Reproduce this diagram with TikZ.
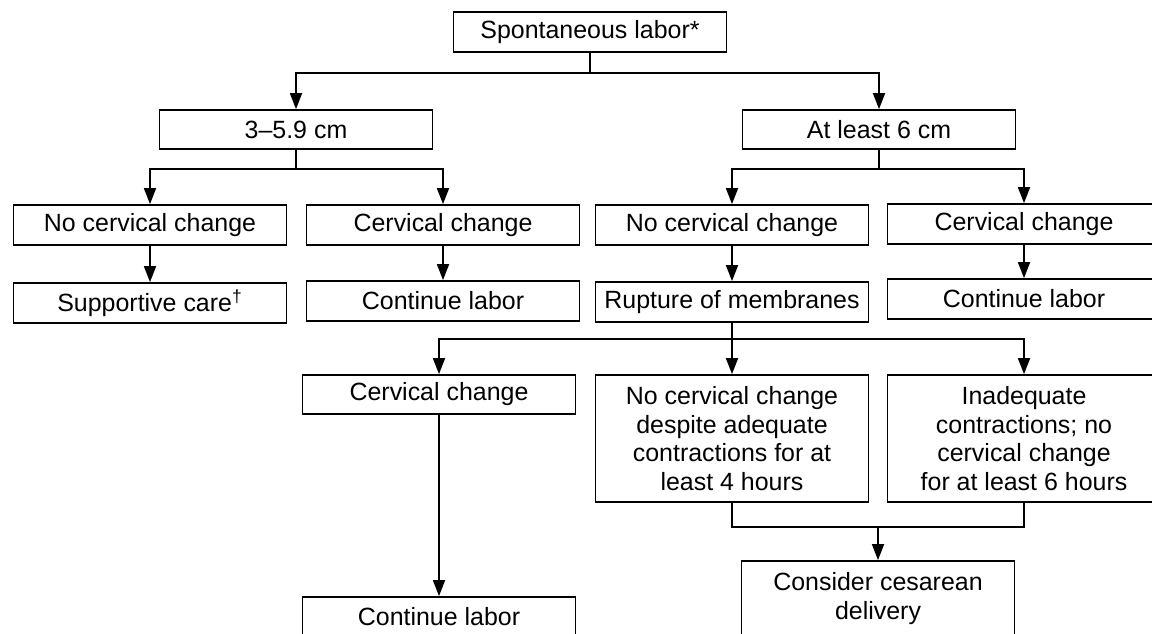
\documentclass[tikz,border=0pt]{standalone}
\usepackage{fontspec}
\setmainfont{Liberation Sans}
\usetikzlibrary{arrows.meta}

\begin{document}
\begin{tikzpicture}[x=0.02cm, y=-0.02cm, line width=1pt,
  box/.style={draw, minimum width=5.46cm, minimum height=0.8cm, inner sep=2pt,
    align=center, font=\fontsize{14.2}{16.2}\selectfont},
  tall/.style={box, minimum height=2.54cm},
  >={Triangle[length=0.32cm, width=0.24cm]}]
\useasboundingbox (0,0) rectangle (1152,634);
\clip (0,0) rectangle (1152,634);
% levels
\node[box] (S) at (590,32) {Spontaneous labor*};
\node[box, minimum height=0.78cm] (A) at (296,129.5) {3–5.9 cm};
\node[box, minimum height=0.78cm] (B) at (879,129.5) {At least 6 cm};
\node[box] (A1) at (150,225) {No cervical change};
\node[box] (A2) at (443,225) {Cervical change};
\node[box] (B1) at (732,225) {No cervical change};
\node[box] (B2) at (1024,224) {Cervical change};
\node[box] (A1c) at (150,303) {Supportive care\textsuperscript{†}};
\node[box] (A2c) at (443,301) {Continue labor};
\node[box] (R) at (732,302) {Rupture of membranes};
\node[box] (B2c) at (1024,299) {Continue labor};
\node[box, minimum height=0.78cm] (R1) at (439,394.5) {Cervical change};
\node[tall] (R2) at (732,438.5) {No cervical change\\despite adequate\\contractions for at\\least 4 hours};
\node[tall] (R3) at (1024,438.5) {Inadequate\\contractions; no\\cervical change\\for at least 6 hours};
\node[box] (R1c) at (439,617) {Continue labor};
\node[box, minimum height=1.5cm] (C) at (878,598.5) {Consider cesarean\\delivery};
% connectors
\draw[->] (S.south) -- ++(0,20) -| (A.north);
\draw[->] (S.south) -- ++(0,20) -| (B.north);
\draw[->] (A.south) -- ++(0,19) -| (A1.north);
\draw[->] (A.south) -- ++(0,19) -| (A2.north);
\draw[->] (B.south) -- ++(0,19) -| (B1.north);
\draw[->] (B.south) -- ++(0,19) -| (B2.north);
\foreach \a/\b in {A1/A1c, A2/A2c, B1/R, B2/B2c, R1/R1c}
  \draw[->] (\a.south) -- (\b.north);
\draw[->] (R.south) -- ++(0,16) -| (R1.north);
\draw[->] (R.south) -- ++(0,16) -| (R2.north);
\draw[->] (R.south) -- ++(0,16) -| (R3.north);
\draw (R2.south) -- ++(0,24) coordinate (J) -| (R3.south);
\draw[->] (J -| C.north) -- (C.north);
\end{tikzpicture}
\end{document}
